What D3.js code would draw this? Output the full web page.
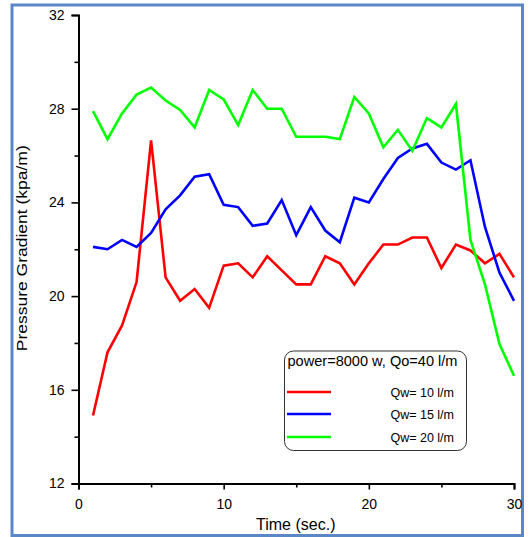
<!DOCTYPE html>
<html>
<head>
<meta charset="utf-8">
<script src="https://cdn.jsdelivr.net/npm/d3@7"></script>
<style>
  html, body { margin: 0; padding: 0; background: #fff; }
  svg { display: block; font-family: "Liberation Sans", Arial, sans-serif; }
</style>
</head>
<body>
<svg id="chart" width="531" height="537"></svg>
<script>
const time = d3.range(1, 31);
const qw10 = [14.9, 17.6, 18.75, 20.6, 26.65, 20.8, 19.8, 20.3, 19.5, 21.3,
              21.4, 20.8, 21.7, 21.1, 20.5, 20.5, 21.7, 21.4, 20.5, 21.4,
              22.2, 22.2, 22.5, 22.5, 21.2, 22.2, 21.95, 21.4, 21.8, 20.8];
const qw15 = [22.1, 22.0, 22.4, 22.1, 22.7, 23.7, 24.3, 25.1, 25.2, 23.9,
              23.8, 23.0, 23.1, 24.1, 22.6, 23.8, 22.8, 22.3, 24.2, 24.0,
              25.0, 25.9, 26.3, 26.5, 25.7, 25.4, 25.8, 22.95, 21.0, 19.8];
const qw20 = [27.9, 26.7, 27.8, 28.6, 28.9, 28.35, 27.95, 27.2, 28.8, 28.4,
              27.3, 28.8, 28.0, 28.0, 26.8, 26.8, 26.8, 26.7, 28.5, 27.8,
              26.35, 27.1, 26.2, 27.6, 27.2, 28.2, 22.4, 20.5, 17.95, 16.6];
const seriesNames = ["Qw= 10 l/m", "Qw= 15 l/m", "Qw= 20 l/m"];
const seriesColors = ["#ff0000", "#0000ff", "#00ff00"];
const xMajorTicks = [0, 10, 20, 30];
const xMinorTicks = [5, 15, 25];
const yMajorTicks = [12, 16, 20, 24, 28, 32];
const yMinorTicks = [14, 18, 22, 26, 30];
const legendTitle = "power=8000 w, Qo=40 l/m";
const xTitle = "Time (sec.)";
const yTitle = "Pressure Gradient (kpa/m)";

const svg = d3.select("#chart");
const L = 78.5, R = 514, T = 15, B = 483.5;

// outer frame
svg.append("rect").attr("x", 12).attr("y", 5).attr("width", 510.5).attr("height", 530.5)
  .attr("fill", "none").attr("stroke", "#5b87c6").attr("stroke-width", 3);

const x = d3.scaleLinear().domain([0, 30]).range([L, R]);
const y = d3.scaleLinear().domain([12, 32]).range([B, T]);

// axes
const xAxis = svg.append("g").attr("transform", `translate(0,${B})`)
  .call(d3.axisBottom(x).tickValues(xMajorTicks).tickSize(6).tickPadding(10).tickFormat(d3.format("d")));
const xMinor = svg.append("g").attr("transform", `translate(0,${B})`)
  .call(d3.axisBottom(x).tickValues(xMinorTicks).tickSize(4).tickFormat(""));
const yAxis = svg.append("g").attr("transform", `translate(${L},0)`)
  .call(d3.axisLeft(y).tickValues(yMajorTicks).tickSize(7).tickPadding(7).tickFormat(d3.format("d")));
const yMinor = svg.append("g").attr("transform", `translate(${L},0)`)
  .call(d3.axisLeft(y).tickValues(yMinorTicks).tickSize(4).tickFormat(""));

[xAxis, xMinor, yAxis, yMinor].forEach(g => {
  g.select(".domain").attr("stroke", "#000").attr("stroke-width", 2);
  g.selectAll(".tick line").attr("stroke", "#000").attr("stroke-width", 1.6);
  g.selectAll(".tick text").attr("fill", "#000").attr("font-size", 14)
    .attr("font-family", "'Liberation Sans', Arial, sans-serif");
});
xMinor.select(".domain").remove();
yMinor.select(".domain").remove();

// axis titles
svg.append("text").attr("x", (L + R) / 2 - 0.5).attr("y", 530).attr("text-anchor", "middle")
  .attr("font-size", 16).attr("fill", "#000").text(xTitle);
svg.append("text").attr("transform", `translate(27,${(T + B) / 2 - 1}) rotate(-90)`)
  .attr("text-anchor", "middle").attr("font-size", 15.5).attr("fill", "#000")
  .attr("textLength", 206).attr("lengthAdjust", "spacingAndGlyphs").text(yTitle);

// lines
const allSeries = [qw10, qw15, qw20];
const line = d3.line().x((d, i) => x(time[i])).y(d => y(d));
const clipId = "plotclip";
svg.append("clipPath").attr("id", clipId).append("rect")
  .attr("x", L).attr("y", T - 2).attr("width", R - L + 4).attr("height", B - T + 2);
const plot = svg.append("g").attr("clip-path", `url(#${clipId})`);
allSeries.forEach((s, k) => {
  plot.append("path").datum(s).attr("d", line).attr("fill", "none")
    .attr("stroke", seriesColors[k]).attr("stroke-width", 2.6).attr("stroke-linejoin", "miter");
});
// redraw green first? order: green on top of others near end — keep order red, blue, green

// legend
const lg = svg.append("g");
lg.append("rect").attr("x", 284.5).attr("y", 351).attr("width", 182).attr("height", 99.5)
  .attr("rx", 9).attr("ry", 9).attr("fill", "#fff").attr("stroke", "#333").attr("stroke-width", 1);
lg.append("text").attr("x", 287.5).attr("y", 366).attr("font-size", 14).attr("fill", "#000")
  .attr("textLength", 170).attr("lengthAdjust", "spacingAndGlyphs").text(legendTitle);
const legendY = [392, 414, 437];
seriesNames.forEach((n, k) => {
  lg.append("line").attr("x1", 287).attr("x2", 331).attr("y1", legendY[k]).attr("y2", legendY[k])
    .attr("stroke", seriesColors[k]).attr("stroke-width", 2.6);
  lg.append("text").attr("x", 454).attr("y", legendY[k] + 4.5).attr("text-anchor", "end")
    .attr("font-size", 12.5).attr("fill", "#000").text(n);
});
</script>
</body>
</html>
